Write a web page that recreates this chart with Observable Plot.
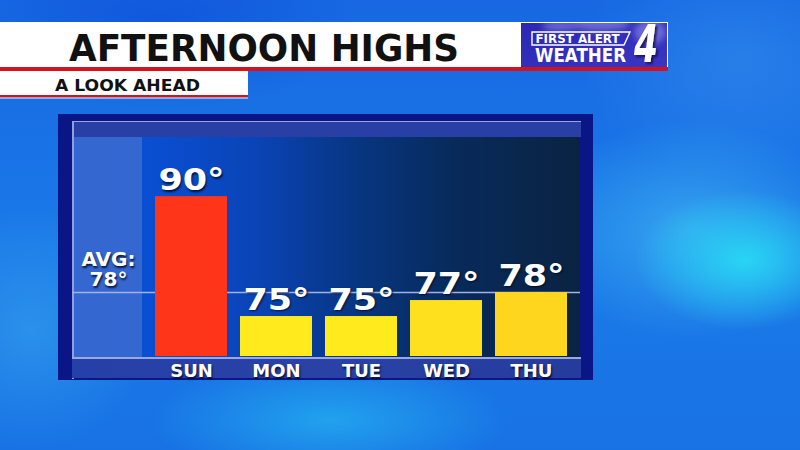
<!DOCTYPE html>
<html>
<head>
<meta charset="utf-8">
<script src="https://cdn.jsdelivr.net/npm/d3@7"></script>
<script src="https://cdn.jsdelivr.net/npm/@observablehq/plot@0.6"></script>
<style>
  html, body { margin: 0; padding: 0; }
  body { width: 800px; height: 450px; overflow: hidden; position: relative; font-family: "DejaVu Sans", sans-serif; }
  #bg { position: absolute; left: 0; top: 0; width: 800px; height: 450px;
    background:
      radial-gradient(ellipse 110px 70px at 745px 260px, rgba(40,225,245,0.85), rgba(40,225,245,0) 100%),
      radial-gradient(ellipse 160px 110px at 690px 230px, rgba(70,190,245,0.6), rgba(70,190,245,0) 100%),
      radial-gradient(ellipse 180px 60px at 330px 420px, rgba(40,200,245,0.55), rgba(40,200,245,0) 100%),
      radial-gradient(ellipse 120px 120px at 30px 330px, rgba(60,170,240,0.5), rgba(60,170,240,0) 100%),
      radial-gradient(ellipse 200px 90px at 160px 20px, rgba(10,70,215,0.5), rgba(10,70,215,0) 100%),
      radial-gradient(ellipse 160px 120px at 740px 60px, rgba(60,150,240,0.45), rgba(60,150,240,0) 100%),
      linear-gradient(180deg, #1768e2 0%, #1b7ae8 55%, #1872e4 100%);
  }
  #header { position: absolute; left: 0; top: 0; }
  #panel { position: absolute; left: 58px; top: 114px; width: 535px; height: 266px; background: #0b1686; }
  .blk { position: absolute; }
  #chart { position: absolute; left: 0; top: 0; }
  #chart svg text { font-weight: bold; text-shadow: 1px 2px 2px rgba(0,10,40,0.85); }
</style>
</head>
<body>
<div id="bg"></div>

<svg id="header" width="800" height="110" xmlns="http://www.w3.org/2000/svg">
  <defs>
    <linearGradient id="logoGrad" x1="0" y1="0" x2="1" y2="1">
      <stop offset="0" stop-color="#2b26b4"/>
      <stop offset="1" stop-color="#3a36c4"/>
    </linearGradient>
    <filter id="blur3"><feGaussianBlur stdDeviation="3"/></filter>
    <filter id="shadow4" x="-30%" y="-30%" width="160%" height="160%">
      <feDropShadow dx="2" dy="2" stdDeviation="1" flood-color="#140f50" flood-opacity="0.9"/>
    </filter>
    <clipPath id="logoClip"><rect x="521" y="23" width="146" height="44"/></clipPath>
  </defs>
  <rect x="0" y="22" width="668" height="46" fill="#ffffff"/>
  <rect x="0" y="67" width="668" height="4" fill="#d3121f"/>
  <rect x="0" y="71" width="248" height="25" fill="#ffffff"/>
  <rect x="0" y="95" width="248" height="2.5" fill="#d3121f"/>
  <rect x="0" y="97.5" width="248" height="1" fill="#f2f2f2"/>
  <text x="69" y="61" font-family="DejaVu Sans" font-weight="bold" font-size="38" fill="#111" textLength="390" lengthAdjust="spacingAndGlyphs">AFTERNOON HIGHS</text>
  <text x="55" y="91" font-family="DejaVu Sans" font-weight="bold" font-size="16.5" fill="#111" textLength="145" lengthAdjust="spacingAndGlyphs">A LOOK AHEAD</text>
  <g clip-path="url(#logoClip)">
    <rect x="521" y="23" width="146" height="44" fill="url(#logoGrad)"/>
    <g filter="url(#blur3)" fill="#8f92e6" opacity="0.6">
      <ellipse cx="600" cy="24" rx="30" ry="7"/>
      <ellipse cx="650" cy="32" rx="16" ry="12"/>
      <ellipse cx="560" cy="26" rx="18" ry="5"/>
    </g>
  </g>
  <polygon points="532,32 630,32 624,45 532,45" fill="none" stroke="#ffffff" stroke-width="1.4"/>
  <text x="535.5" y="43" font-family="DejaVu Sans" font-weight="bold" font-size="12" fill="#ffffff" textLength="84" lengthAdjust="spacingAndGlyphs">FIRST ALERT</text>
  <text x="535" y="62" font-family="DejaVu Sans" font-weight="bold" font-size="20" fill="#ffffff" textLength="91" lengthAdjust="spacingAndGlyphs">WEATHER</text>
  <text x="634" y="62" font-family="DejaVu Sans" font-weight="bold" font-style="italic" font-size="52" fill="#ffffff" textLength="24" lengthAdjust="spacingAndGlyphs" filter="url(#shadow4)">4</text>
  <rect x="521" y="67" width="147" height="4" fill="#d3121f"/>
</svg>

<div id="panel">
  <div class="blk" style="left:14px;top:7px;width:509px;height:16px;background:#283fa6;"></div>
  <div class="blk" style="left:14px;top:6.5px;width:509px;height:1.5px;background:#9aa8e0;"></div>
  <div class="blk" style="left:15px;top:23px;width:69px;height:221px;background:#3467d0;"></div>
  <div class="blk" style="left:84px;top:23px;width:438px;height:221px;background:linear-gradient(90deg,#0a4fd3 0%,#0a44b8 25%,#07357f 50%,#082a5a 72%,#0a2342 100%);"></div>
  <div class="blk" style="left:14px;top:6.5px;width:1.5px;height:258px;background:#8ea0e0;"></div>
  <div class="blk" style="left:14px;top:244px;width:509px;height:20px;background:linear-gradient(90deg,#2540a8,#2a42a6 50%,#253c9c);"></div>
  <div class="blk" style="left:14px;top:243px;width:509px;height:1.5px;background:#9aa8e0;"></div>
  <div id="chart"></div>
</div>

<script>
// ---- data ----
const days = ["SUN", "MON", "TUE", "WED", "THU"];
const highs = [90, 75, 75, 77, 78];
const avgHigh = 78;
const avgLabelPrefix = "AVG:";

// ---- styles ----
const barColors = ["#ff3519", "#ffea1e", "#ffea1e", "#ffe01e", "#ffd61e"];
const yFloor = 70;

const data = days.map((day, i) => ({ day, temp: highs[i] }));

const chart = Plot.plot({
  width: 535,
  height: 266,
  marginLeft: 14,
  marginRight: 13,
  marginTop: 23,
  marginBottom: 24,
  x: { domain: days, range: [84, 522], paddingInner: 0.15, paddingOuter: 0.14 },
  y: { domain: [yFloor, 97.4], axis: null },
  color: { domain: days, range: barColors },
  style: { background: "transparent", color: "white", fontFamily: "DejaVu Sans", overflow: "visible" },
  marks: [
    Plot.ruleY([avgHigh], { stroke: "#a3b2e6", strokeWidth: 1.5 }),
    Plot.barY(data, { x: "day", y1: yFloor, y2: "temp", fill: "day" }),
    Plot.text(data, {
      x: "day", y: "temp", text: d => `${d.temp}°`,
      lineAnchor: "bottom", dy: -7, fontSize: 31, fontWeight: "bold", fill: "white"
    }),
    Plot.text([avgHigh], {
      y: d => d, frameAnchor: "left", dx: 36, textAnchor: "middle",
      lineAnchor: "bottom", lineHeight: 1, dy: -7,
      text: d => `${avgLabelPrefix}\n${d}°`,
      fontSize: 20, fontWeight: "bold", fill: "white"
    }),
    Plot.axisX({ tickSize: 0, tickPadding: 8, fontSize: 18, fontWeight: "bold", label: null })
  ]
});
// widen the value labels' glyphs horizontally (broad display face in the reference)
d3.select(chart).selectAll('g[aria-label="text"]').filter((d, i) => i === 0)
  .selectAll("text").each(function () {
    const t = this.getAttribute("transform");
    if (t) {
      this.setAttribute("transform", t + " scale(1.13,1)");
    } else {
      const x = +this.getAttribute("x") || 0;
      this.setAttribute("transform", `translate(${x},0) scale(1.13,1) translate(${-x},0)`);
    }
  });
document.getElementById("chart").appendChild(chart);
</script>
</body>
</html>
